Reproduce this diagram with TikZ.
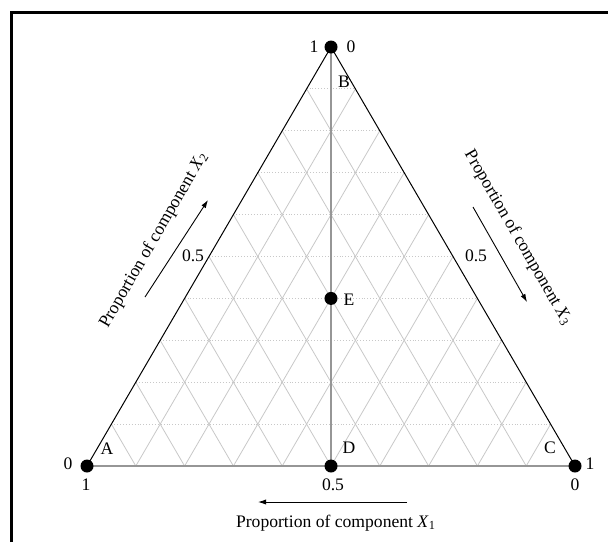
\documentclass[tikz,border=0pt]{standalone}
\usepackage{fontspec}
\setmainfont{Liberation Serif}
\usepackage{xcolor}
\usetikzlibrary{arrows.meta,positioning,calc}
\definecolor{gridgray}{RGB}{200,200,200}
\definecolor{axisgray}{RGB}{150,150,150}
\tikzset{
  vdot/.style={circle, fill=black, inner sep=0pt, minimum size=6.5pt},
  lbl/.style={inner sep=1pt, font=\fontsize{8.8}{10}\selectfont},
  gridh/.style={gridgray, densely dotted, line width=0.45pt},
  grids/.style={gridgray, line width=0.4pt},
  axisln/.style={axisgray, line width=0.9pt},
  edgeln/.style={black, line width=0.5pt},
  parr/.style={-{Latex[length=4pt,width=2.6pt]}, line width=0.45pt},
}

\begin{document}
\begin{tikzpicture}[x=0.5pt, y=-0.5pt, font=\fontsize{8.8}{10}\selectfont]
  \useasboundingbox (0,0) rectangle (608,542);
  % frame
  \draw[line width=1.5pt] (11.5,542) -- (11.5,12.5) -- (608,12.5);
  % corners of the simplex
  \coordinate (pA) at (87,466);
  \coordinate (pC) at (575,466);
  \coordinate (pT) at (331,47);
  \coordinate (pD) at (331,466);
  % grid
  \foreach \i in {1,...,9} {
    \draw[gridh] ($(pA)!\i/10!(pT)$) -- ($(pC)!\i/10!(pT)$);
    \draw[grids] ($(pA)!\i/10!(pC)$) -- ($(pT)!\i/10!(pC)$);
    \draw[grids] ($(pA)!\i/10!(pC)$) -- ($(pA)!\i/10!(pT)$);
  }
  \draw[axisln] (pA) -- (pC);
  \draw[axisln] (pT) -- (pD);
  \draw[edgeln] (pA) -- (pT) -- (pC);
  % points
  \node[vdot] (vA) at (pA) {};
  \node[vdot] (vC) at (pC) {};
  \node[vdot] (vT) at (pT) {};
  \node[vdot] (vD) at (pD) {};
  \node[vdot] (vE) at ($(pD)!0.4!(pT)$) {};
  % point labels
  \node[lbl] (lB) at (344,82) {B};
  \node[lbl] (lA) at (107,449) {A};
  \node[lbl] (lC) at (550,448) {C};
  \node[lbl] (lD) at (349,448) {D};
  \node[lbl] (lE) at (349,300) {E};
  % scale values
  \node[lbl] (tT1) at (314,47) {1};
  \node[lbl] (tT0) at (351,47) {0};
  \node[lbl] (tA0) at (68,464) {0};
  \node[lbl] (tA1) at (86,485) {1};
  \node[lbl] (tC1) at (590,464) {1};
  \node[lbl] (tC0) at (575,485) {0};
  \node[lbl] (tD) at (333,485) {0.5};
  \node[lbl] (tL) at (193,256) {0.5};
  \node[lbl] (tR) at (476,256) {0.5};
  % axis titles
  \node[lbl, rotate=60] (ax2) at (154,240) {Proportion of component \textit{X}\textsubscript{2}};
  \node[lbl, rotate=-60] (ax3) at (518,238) {Proportion of component \textit{X}\textsubscript{3}};
  \node[lbl] (ax1) at (336,523) {Proportion of component \textit{X}\textsubscript{1}};
  \coordinate (a2s) at (145,297);
  \coordinate (a2e) at (208,200);
  \coordinate (a3s) at (473,207);
  \coordinate (a3e) at (527,302);
  \coordinate (a1s) at (407,502);
  \coordinate (a1e) at (258,502);
  \draw[parr] (a2s) -- (a2e);
  \draw[parr] (a3s) -- (a3e);
  \draw[parr] (a1s) -- (a1e);
\end{tikzpicture}
\end{document}
